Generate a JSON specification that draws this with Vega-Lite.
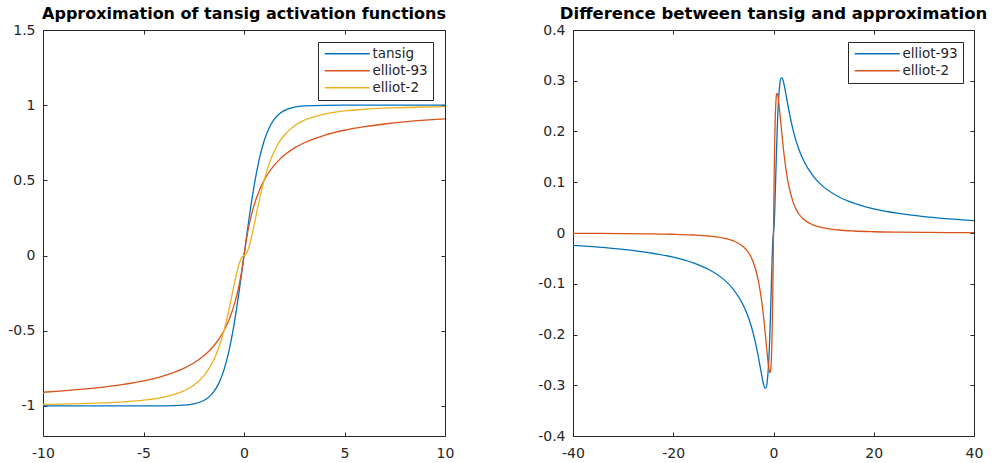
{
  "$schema": "https://vega.github.io/schema/vega-lite/v6.json",
  "padding": {"left": 7, "top": 5, "right": 5, "bottom": 5},
  "background": "white",
  "spacing": 82,
  "config": {
    "font": "DejaVu Sans",
    "view": {"stroke": "#262626", "strokeWidth": 1},
    "axis": {"domain": false, "grid": false, "ticks": true, "tickSize": -4, "tickColor": "#262626", "labelColor": "#262626", "labelFontSize": 14, "labelFont": "DejaVu Sans", "title": null, "labelPadding": 12, "labelFlush": false, "labelOverlap": false},
    "axisX": {"labelPadding": 14},
    "title": {"fontSize": 16.5, "font": "DejaVu Sans", "fontWeight": "bold", "color": "black", "offset": 1, "frame": "group"},
    "legend": {"orient": "none", "legendX": 275, "legendY": 12, "strokeColor": "#262626", "fillColor": "white", "padding": 5, "symbolType": "M-1,0H8", "symbolSize": 100, "symbolStrokeWidth": 1.3, "labelFontSize": 13.5, "labelFont": "DejaVu Sans", "labelColor": "#262626", "labelOffset": 36, "rowPadding": 2, "title": null}
  },
  "resolve": {"scale": {"color": "independent"}, "legend": {"color": "independent"}},
  "hconcat": [
    {
      "width": 402,
      "height": 406,
      "title": {"text": "Approximation of tansig activation functions", "fontSize": 16},
      "data": {"values": [
        {"x": -10, "tansig": -1, "elliot-93": -0.9091, "elliot-2": -0.9901},
        {"x": -9, "tansig": -1, "elliot-93": -0.9, "elliot-2": -0.9878},
        {"x": -8, "tansig": -1, "elliot-93": -0.8889, "elliot-2": -0.9846},
        {"x": -7, "tansig": -1, "elliot-93": -0.875, "elliot-2": -0.98},
        {"x": -6, "tansig": -1, "elliot-93": -0.8571, "elliot-2": -0.973},
        {"x": -5, "tansig": -0.9999, "elliot-93": -0.8333, "elliot-2": -0.9615},
        {"x": -4, "tansig": -0.9993, "elliot-93": -0.8, "elliot-2": -0.9412},
        {"x": -3, "tansig": -0.9951, "elliot-93": -0.75, "elliot-2": -0.9},
        {"x": -2.5, "tansig": -0.9866, "elliot-93": -0.7143, "elliot-2": -0.8621},
        {"x": -2, "tansig": -0.964, "elliot-93": -0.6667, "elliot-2": -0.8},
        {"x": -1.75, "tansig": -0.9414, "elliot-93": -0.6364, "elliot-2": -0.7538},
        {"x": -1.5, "tansig": -0.9051, "elliot-93": -0.6, "elliot-2": -0.6923},
        {"x": -1.25, "tansig": -0.8483, "elliot-93": -0.5556, "elliot-2": -0.6098},
        {"x": -1, "tansig": -0.7616, "elliot-93": -0.5, "elliot-2": -0.5},
        {"x": -0.75, "tansig": -0.6351, "elliot-93": -0.4286, "elliot-2": -0.36},
        {"x": -0.5, "tansig": -0.4621, "elliot-93": -0.3333, "elliot-2": -0.2},
        {"x": -0.375, "tansig": -0.3584, "elliot-93": -0.2727, "elliot-2": -0.1233},
        {"x": -0.25, "tansig": -0.2449, "elliot-93": -0.2, "elliot-2": -0.0588},
        {"x": -0.125, "tansig": -0.1244, "elliot-93": -0.1111, "elliot-2": -0.0154},
        {"x": 0, "tansig": 0, "elliot-93": 0, "elliot-2": 0},
        {"x": 0.125, "tansig": 0.1244, "elliot-93": 0.1111, "elliot-2": 0.0154},
        {"x": 0.25, "tansig": 0.2449, "elliot-93": 0.2, "elliot-2": 0.0588},
        {"x": 0.375, "tansig": 0.3584, "elliot-93": 0.2727, "elliot-2": 0.1233},
        {"x": 0.5, "tansig": 0.4621, "elliot-93": 0.3333, "elliot-2": 0.2},
        {"x": 0.75, "tansig": 0.6351, "elliot-93": 0.4286, "elliot-2": 0.36},
        {"x": 1, "tansig": 0.7616, "elliot-93": 0.5, "elliot-2": 0.5},
        {"x": 1.25, "tansig": 0.8483, "elliot-93": 0.5556, "elliot-2": 0.6098},
        {"x": 1.5, "tansig": 0.9051, "elliot-93": 0.6, "elliot-2": 0.6923},
        {"x": 1.75, "tansig": 0.9414, "elliot-93": 0.6364, "elliot-2": 0.7538},
        {"x": 2, "tansig": 0.964, "elliot-93": 0.6667, "elliot-2": 0.8},
        {"x": 2.5, "tansig": 0.9866, "elliot-93": 0.7143, "elliot-2": 0.8621},
        {"x": 3, "tansig": 0.9951, "elliot-93": 0.75, "elliot-2": 0.9},
        {"x": 4, "tansig": 0.9993, "elliot-93": 0.8, "elliot-2": 0.9412},
        {"x": 5, "tansig": 0.9999, "elliot-93": 0.8333, "elliot-2": 0.9615},
        {"x": 6, "tansig": 1, "elliot-93": 0.8571, "elliot-2": 0.973},
        {"x": 7, "tansig": 1, "elliot-93": 0.875, "elliot-2": 0.98},
        {"x": 8, "tansig": 1, "elliot-93": 0.8889, "elliot-2": 0.9846},
        {"x": 9, "tansig": 1, "elliot-93": 0.9, "elliot-2": 0.9878},
        {"x": 10, "tansig": 1, "elliot-93": 0.9091, "elliot-2": 0.9901}
      ]},
      "transform": [{"fold": ["tansig", "elliot-93", "elliot-2"], "as": ["series", "y"]}],
      "layer": [
        {
          "mark": {"type": "line", "strokeWidth": 1.3, "interpolate": "monotone"},
          "encoding": {
            "x": {"field": "x", "type": "quantitative", "scale": {"domain": [-10, 10], "nice": false, "zero": false}, "axis": {"orient": "bottom", "values": [-10, -5, 0, 5, 10], "labelExpr": "datum.value + ''"}},
            "y": {"field": "y", "type": "quantitative", "scale": {"domain": [-1.2, 1.5], "nice": false, "zero": false}, "axis": {"orient": "left", "values": [-1, -0.5, 0, 0.5, 1, 1.5], "labelExpr": "datum.value + ''"}},
            "color": {"field": "series", "type": "nominal", "sort": null, "scale": {"domain": ["tansig", "elliot-93", "elliot-2"], "range": ["#0072BD", "#D95319", "#EDB120"]}}
          }
        },
        {
          "mark": {"type": "point", "opacity": 0},
          "encoding": {
            "x": {"field": "x", "type": "quantitative", "axis": {"orient": "top", "values": [-10, -5, 0, 5, 10], "labels": false}},
            "y": {"field": "y", "type": "quantitative", "axis": {"orient": "right", "values": [-1, -0.5, 0, 0.5, 1, 1.5], "labels": false}}
          }
        }
      ],
      "resolve": {"axis": {"x": "independent", "y": "independent"}}
    },
    {
      "width": 401,
      "height": 406,
      "title": {"text": "Difference between tansig and approximation"},
      "data": {"values": [
        {"x": -40, "elliot-93": -0.0244, "elliot-2": -0.0006},
        {"x": -35, "elliot-93": -0.0278, "elliot-2": -0.0008},
        {"x": -30, "elliot-93": -0.0323, "elliot-2": -0.0011},
        {"x": -25, "elliot-93": -0.0385, "elliot-2": -0.0016},
        {"x": -20, "elliot-93": -0.0476, "elliot-2": -0.0025},
        {"x": -16, "elliot-93": -0.0588, "elliot-2": -0.0039},
        {"x": -13, "elliot-93": -0.0714, "elliot-2": -0.0059},
        {"x": -10, "elliot-93": -0.0909, "elliot-2": -0.0099},
        {"x": -8, "elliot-93": -0.1111, "elliot-2": -0.0154},
        {"x": -6, "elliot-93": -0.1428, "elliot-2": -0.027},
        {"x": -5, "elliot-93": -0.1666, "elliot-2": -0.0384},
        {"x": -4, "elliot-93": -0.1993, "elliot-2": -0.0581},
        {"x": -3, "elliot-93": -0.2451, "elliot-2": -0.0951},
        {"x": -2.5, "elliot-93": -0.2723, "elliot-2": -0.1245},
        {"x": -2, "elliot-93": -0.2973, "elliot-2": -0.164},
        {"x": -1.75, "elliot-93": -0.305, "elliot-2": -0.1876},
        {"x": -1.5, "elliot-93": -0.3051, "elliot-2": -0.2128},
        {"x": -1.25, "elliot-93": -0.2927, "elliot-2": -0.2385},
        {"x": -1, "elliot-93": -0.2616, "elliot-2": -0.2616},
        {"x": -0.75, "elliot-93": -0.2065, "elliot-2": -0.2751},
        {"x": -0.625, "elliot-93": -0.17, "elliot-2": -0.2737},
        {"x": -0.5, "elliot-93": -0.1288, "elliot-2": -0.2621},
        {"x": -0.375, "elliot-93": -0.0857, "elliot-2": -0.2351},
        {"x": -0.25, "elliot-93": -0.0449, "elliot-2": -0.1861},
        {"x": -0.125, "elliot-93": -0.0133, "elliot-2": -0.109},
        {"x": 0, "elliot-93": 0, "elliot-2": 0},
        {"x": 0.125, "elliot-93": 0.0133, "elliot-2": 0.109},
        {"x": 0.25, "elliot-93": 0.0449, "elliot-2": 0.1861},
        {"x": 0.375, "elliot-93": 0.0857, "elliot-2": 0.2351},
        {"x": 0.5, "elliot-93": 0.1288, "elliot-2": 0.2621},
        {"x": 0.625, "elliot-93": 0.17, "elliot-2": 0.2737},
        {"x": 0.75, "elliot-93": 0.2065, "elliot-2": 0.2751},
        {"x": 1, "elliot-93": 0.2616, "elliot-2": 0.2616},
        {"x": 1.25, "elliot-93": 0.2927, "elliot-2": 0.2385},
        {"x": 1.5, "elliot-93": 0.3051, "elliot-2": 0.2128},
        {"x": 1.75, "elliot-93": 0.305, "elliot-2": 0.1876},
        {"x": 2, "elliot-93": 0.2973, "elliot-2": 0.164},
        {"x": 2.5, "elliot-93": 0.2723, "elliot-2": 0.1245},
        {"x": 3, "elliot-93": 0.2451, "elliot-2": 0.0951},
        {"x": 4, "elliot-93": 0.1993, "elliot-2": 0.0581},
        {"x": 5, "elliot-93": 0.1666, "elliot-2": 0.0384},
        {"x": 6, "elliot-93": 0.1428, "elliot-2": 0.027},
        {"x": 8, "elliot-93": 0.1111, "elliot-2": 0.0154},
        {"x": 10, "elliot-93": 0.0909, "elliot-2": 0.0099},
        {"x": 13, "elliot-93": 0.0714, "elliot-2": 0.0059},
        {"x": 16, "elliot-93": 0.0588, "elliot-2": 0.0039},
        {"x": 20, "elliot-93": 0.0476, "elliot-2": 0.0025},
        {"x": 25, "elliot-93": 0.0385, "elliot-2": 0.0016},
        {"x": 30, "elliot-93": 0.0323, "elliot-2": 0.0011},
        {"x": 35, "elliot-93": 0.0278, "elliot-2": 0.0008},
        {"x": 40, "elliot-93": 0.0244, "elliot-2": 0.0006}
      ]},
      "transform": [{"fold": ["elliot-93", "elliot-2"], "as": ["approx", "d"]}],
      "layer": [
        {
          "mark": {"type": "line", "strokeWidth": 1.3, "interpolate": "monotone"},
          "encoding": {
            "x": {"field": "x", "type": "quantitative", "scale": {"domain": [-40, 40], "nice": false, "zero": false}, "axis": {"orient": "bottom", "values": [-40, -20, 0, 20, 40], "labelExpr": "datum.value + ''"}},
            "y": {"field": "d", "type": "quantitative", "scale": {"domain": [-0.4, 0.4], "nice": false, "zero": false}, "axis": {"orient": "left", "values": [-0.4, -0.3, -0.2, -0.1, 0, 0.1, 0.2, 0.3, 0.4], "labelExpr": "datum.value + ''"}},
            "color": {"field": "approx", "type": "nominal", "sort": null, "scale": {"domain": ["elliot-93", "elliot-2"], "range": ["#0072BD", "#D95319"]}}
          }
        },
        {
          "mark": {"type": "point", "opacity": 0},
          "encoding": {
            "x": {"field": "x", "type": "quantitative", "axis": {"orient": "top", "values": [-40, -20, 0, 20, 40], "labels": false}},
            "y": {"field": "d", "type": "quantitative", "axis": {"orient": "right", "values": [-0.4, -0.3, -0.2, -0.1, 0, 0.1, 0.2, 0.3, 0.4], "labels": false}}
          }
        }
      ],
      "resolve": {"axis": {"x": "independent", "y": "independent"}}
    }
  ]
}
